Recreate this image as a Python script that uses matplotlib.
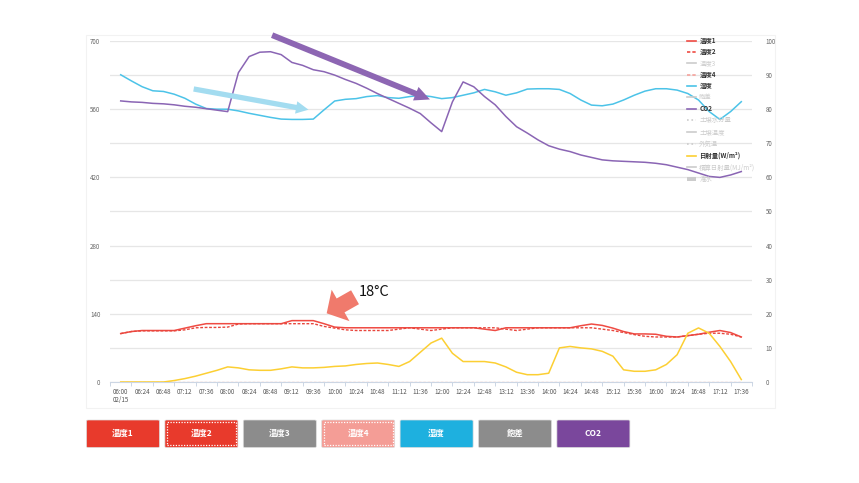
import matplotlib
matplotlib.use('Agg')
import matplotlib.pyplot as plt
from matplotlib.lines import Line2D
from matplotlib.patches import FancyArrowPatch, FancyBboxPatch, Rectangle
from matplotlib.ticker import FixedLocator

plt.rcParams['font.family'] = ['Noto Sans CJK JP', 'DejaVu Sans']

# ---------------- data ----------------
time_labels = ['06:00\n02/15', '06:24', '06:48', '07:12', '07:36', '08:00', '08:24', '08:48',
               '09:12', '09:36', '10:00', '10:24', '10:48', '11:12', '11:36', '12:00',
               '12:24', '12:48', '13:12', '13:36', '14:00', '14:24', '14:48', '15:12',
               '15:36', '16:00', '16:24', '16:48', '17:12', '17:36']

# samples every 12 minutes (06:00 .. 17:36)
temp1 = [14.2, 14.8, 15.1, 15.1, 15.1, 15.1, 15.8, 16.5, 17.1, 17.1, 17.1, 17.1, 17.1, 17.1, 17.1,
         17.1, 18.0, 18.0, 18.0, 17.1, 16.1, 15.9, 15.9, 15.9, 15.9, 15.9, 15.9, 15.9, 15.9, 15.9,
         15.9, 15.9, 15.9, 15.9, 15.5, 15.1, 15.9, 15.9, 15.9, 15.9, 15.9, 15.9, 15.9, 16.5, 17.0,
         16.6, 15.8, 14.8, 14.1, 14.1, 14.0, 13.4, 13.2, 13.6, 14.0, 14.6, 15.1, 14.5, 13.2]
temp2 = [14.2, 14.8, 15.0, 15.0, 15.0, 15.0, 15.3, 15.9, 16.0, 16.0, 16.1, 17.0, 17.1, 17.1, 17.1,
         17.1, 17.1, 17.1, 17.1, 16.3, 15.8, 15.3, 15.1, 15.1, 15.1, 15.1, 15.5, 15.9, 15.5, 15.1,
         15.5, 15.9, 15.9, 15.9, 15.9, 15.9, 15.5, 15.1, 15.5, 15.9, 15.9, 15.9, 15.9, 15.9, 15.9,
         15.5, 15.1, 14.5, 13.9, 13.4, 13.2, 13.2, 13.2, 13.6, 14.0, 14.3, 14.3, 14.0, 13.2]
temp4 = [0.0] * 59
humidity = [90.1, 88.3, 86.6, 85.4, 85.2, 84.4, 83.2, 81.5, 80.2, 80.0, 80.0, 79.5, 78.8, 78.2, 77.6,
            77.1, 77.0, 77.0, 77.1, 79.8, 82.4, 82.9, 83.1, 83.7, 84.0, 83.4, 83.2, 83.7, 84.1, 83.7,
            83.1, 83.4, 84.1, 84.8, 85.8, 85.1, 84.1, 84.8, 85.9, 86.0, 86.0, 85.8, 84.6, 82.7, 81.2,
            81.0, 81.5, 82.7, 84.1, 85.3, 86.0, 86.0, 85.6, 84.6, 82.7, 79.3, 77.0, 79.3, 82.2]
co2 = [577, 575, 574, 572, 571, 569, 566, 564, 561, 558, 555, 635, 668, 677, 678,
       672, 656, 650, 641, 637, 630, 621, 613, 603, 592, 582, 572, 562, 551, 532,
       514, 575, 616, 606, 586, 569, 545, 524, 511, 497, 485, 478, 473, 466, 461,
       456, 454, 453, 452, 451, 449, 446, 441, 436, 429, 422, 420, 425, 432]
solar = [0, 0, 0, 0, 0, 3, 7, 12, 18, 24, 31, 29, 25, 24, 24,
         27, 31, 29, 29, 30, 32, 33, 36, 38, 39, 36, 32, 42, 61, 80,
         90, 59, 42, 42, 42, 39, 31, 20, 15, 15, 18, 70, 73, 70, 68,
         63, 53, 25, 22, 22, 25, 36, 56, 100, 111, 100, 73, 42, 5]

legend_labels = ['温度1', '温度2', '温度3', '温度4', '湿度', '飽差', 'CO2', '土壌水分量',
                 '土壌温度', '外気温', '日射量(W/m²)', '積算日射量(MJ/m²)', '潅水']
button_labels = ['温度1', '温度2', '温度3', '温度4', '湿度', '飽差', 'CO2']

# ---------------- style ----------------
RED = '#ef4b43'
PINK = '#f5a29b'
CYAN = '#4cc3e8'
PURPLE = '#8a65b4'
YELLOW = '#fccf33'
GREYTXT = '#666666'
W, H = 859, 483

fig = plt.figure(figsize=(W / 100, H / 100), dpi=100)
fig.patch.set_facecolor('white')

def fx(x):
    return x / W

def fy(y):
    return 1 - y / H

# faint panel border
fig.add_artist(Rectangle((fx(86), fy(408)), fx(775) - fx(86), fy(35) - fy(408),
                         transform=fig.transFigure, fill=False, ec='#f2f2f2', lw=0.8))

ax = fig.add_axes([fx(110), fy(382), fx(752) - fx(110), fy(41) - fy(382)])
ax2 = ax.twinx()
ax.set_zorder(2)
ax2.set_zorder(1)
ax.patch.set_visible(False)

x = list(range(len(co2)))
ax.set_xlim(-1, 59)
ax.set_ylim(0, 700)
ax2.set_ylim(0, 100)

for a in (ax, ax2):
    for s in ('top', 'left', 'right'):
        a.spines[s].set_visible(False)
ax.spines['bottom'].set_color('#ccd6e4')
ax.spines['bottom'].set_linewidth(0.8)
ax2.spines['bottom'].set_visible(False)

ax.set_yticks(range(0, 701, 140))
ax.tick_params(axis='y', length=0, labelsize=4.5, labelcolor=GREYTXT, pad=7)
ax2.set_yticks(range(0, 101, 10))
ax2.tick_params(axis='y', length=0, labelsize=4.5, labelcolor=GREYTXT, pad=10)
ax2.grid(axis='y', color='#e6e6e6', lw=0.9)
ax2.set_axisbelow(True)

ax.set_xticks(range(0, 59, 2))
ax.set_xticklabels(time_labels)
ax.xaxis.set_minor_locator(FixedLocator(list(range(-1, 60, 2))))
ax.tick_params(axis='x', which='major', length=0, labelsize=4.5, labelcolor='#555555', pad=4)
ax.tick_params(axis='x', which='minor', length=3, color='#ccd6e4', width=0.7)
for lab in ax.get_xticklabels():
    lab.set_horizontalalignment('center')
    lab.set_verticalalignment('top')
    lab.set_linespacing(1.1)

# series
ax2.plot(x, temp4, color=PINK, lw=0.9, ls=(0, (2, 1.5)), zorder=3)
ax2.plot(x, humidity, color=CYAN, lw=1.1, zorder=3)
ax2.plot(x, temp1, color=RED, lw=1.1, zorder=4)
ax2.plot(x, temp2, color='#e8463d', lw=1.0, ls=(0, (2, 1.2)), zorder=4)
ax.plot(x, co2, color=PURPLE, lw=1.1, zorder=3)
ax.plot(x, solar, color=YELLOW, lw=1.1, zorder=3)

# annotation arrows (in left-axis data coordinates)
ax.add_patch(FancyArrowPatch((6.82, 601.5), (17.55, 559),
                             arrowstyle='simple,head_width=0.9,head_length=0.9,tail_width=0.38',
                             mutation_scale=10, color='#a3dcf0', lw=0, zorder=6, clip_on=False,
                             shrinkA=0, shrinkB=0))
ax.add_patch(FancyArrowPatch((14.15, 712), (28.9, 580),
                             arrowstyle='simple,head_width=1.05,head_length=1.1,tail_width=0.42',
                             mutation_scale=10, color='#8d66b3', lw=0, zorder=6, clip_on=False,
                             shrinkA=0, shrinkB=0))
ax.add_patch(FancyArrowPatch((21.9, 174), (19.25, 141.0),
                             arrowstyle='simple,head_width=2.6,head_length=1.15,tail_width=1.15',
                             mutation_scale=10, color='#f07a6c', lw=0, zorder=6, clip_on=False,
                             shrinkA=0, shrinkB=0))
fig.text(fx(359), fy(292), '18°C', fontsize=10.5, color='#111111', va='center', ha='left')

# legend
legend_styles = [
    (RED, '-', True), (RED, (0, (2, 1.2)), True), ('#cccccc', '-', False), (PINK, (0, (2, 1.2)), True),
    (CYAN, '-', True), ('#cccccc', '-', False), (PURPLE, '-', True), ('#cccccc', ':', False),
    ('#cccccc', '-', False), ('#cccccc', ':', False), (YELLOW, '-', True), ('#cccccc', '-', False),
    ('#cccccc', 'sq', False)]
handles = []
for lbl, (c, ls, act) in zip(legend_labels, legend_styles):
    if ls == 'sq':
        handles.append(Rectangle((0, 0), 1, 1, fc='#cccccc', ec='none'))
    else:
        handles.append(Line2D([], [], color=c, ls=ls, lw=1.2))
leg = fig.legend(handles, legend_labels, loc='upper left', bbox_to_anchor=(fx(684), fy(34)),
                 bbox_transform=fig.transFigure, frameon=False, fontsize=4.6,
                 handlelength=1.3, handletextpad=0.6, labelspacing=0.62, borderpad=0)
for t, (c, ls, act) in zip(leg.get_texts(), legend_styles):
    if act:
        t.set_color('#333333')
        t.set_fontweight('bold')
    else:
        t.set_color('#cccccc')

# buttons
btn_colors = ['#e83a2c', '#e83a2c', '#8c8c8c', '#f49d96', '#1eb0df', '#8c8c8c', '#7a479c']
btn_dotted = [False, True, False, True, False, False, False]
for i, (lbl, c, d) in enumerate(zip(button_labels, btn_colors, btn_dotted)):
    x0 = 86.5 + i * 78.4
    w = 73
    fig.add_artist(FancyBboxPatch((fx(x0), fy(447.5)), fx(w), fy(420) - fy(447.5),
                                  boxstyle='round,pad=0,rounding_size=0.002',
                                  transform=fig.transFigure, fc=c, ec='#dddddd', lw=0.5))
    if d:
        fig.add_artist(Rectangle((fx(x0 + 2.2), fy(445.3)), fx(w - 4.4), fy(422.2) - fy(445.3),
                                 transform=fig.transFigure, fill=False, ec='white', lw=0.9, ls=(0, (1, 1.2))))
    fig.text(fx(x0 + w / 2), fy(433.8), lbl, fontsize=6, color='white', fontweight='bold',
             ha='center', va='center')

fig.savefig('out.png', dpi=100, facecolor='white')
